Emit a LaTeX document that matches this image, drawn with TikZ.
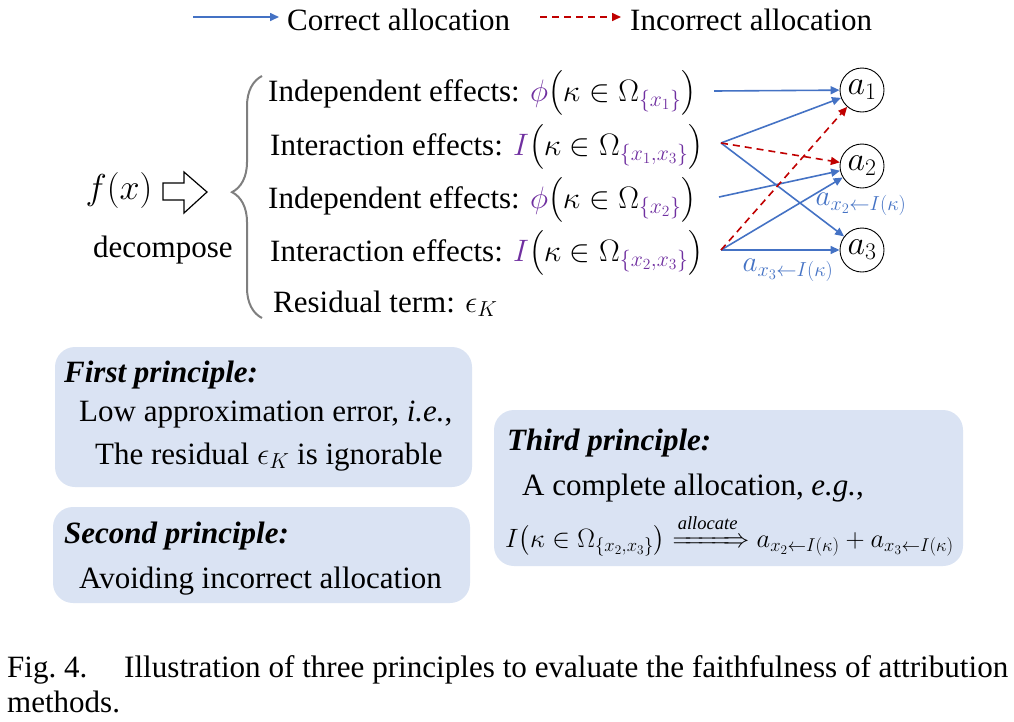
\RequirePackage{fix-cm}
\documentclass[tikz,border=0pt]{standalone}
\usepackage{fontspec}
\usepackage{mathtools}
\setmainfont{Liberation Serif}
\usetikzlibrary{arrows.meta,decorations.pathreplacing}
\definecolor{vio}{HTML}{7030A0}
\definecolor{cblue}{HTML}{4472C4}
\definecolor{cred}{HTML}{C00000}
\definecolor{boxfill}{HTML}{DAE3F3}
\definecolor{brgray}{HTML}{7F7F7F}
\newcommand{\vs}[1]{\textcolor{vio}{#1}}

\begin{document}
\begin{tikzpicture}[
  x=1pt, y=-1pt,
  txt/.style={font=\fontsize{31}{37}\selectfont, inner sep=0pt},
  eff/.style={txt, anchor=base west},
  cor/.style={draw=cblue, line width=1.6pt, -{Triangle[length=9pt,width=8pt]}},
  inc/.style={draw=cred, line width=1.6pt, dash pattern=on 7pt off 5pt, -{Triangle[length=9pt,width=8pt]}},
  anode/.style={draw, circle, line width=0.9pt, minimum size=44pt, inner sep=0pt, font=\fontsize{34}{40}\selectfont},
  lbl/.style={txt, text=cblue, font=\fontsize{29}{34}\selectfont},
  pbox/.style={fill=boxfill, rounded corners=20pt, inner sep=0pt},
  ptitle/.style={txt, anchor=base west, font=\fontsize{31}{37}\selectfont\bfseries\itshape},
]
  \useasboundingbox (0,0) rectangle (1014,721);

  % ---------------- legend
  \coordinate (lg1) at (193,17);
  \node[eff] (lgc) at (287,30) {Correct allocation};
  \draw[cor] (lg1) -- (lg1 -| 279,0);
  \coordinate (lg2) at (540,17);
  \node[eff] (lgi) at (630,30) {Incorrect allocation};
  \draw[inc] (lg2) -- (lg2 -| 621,0);

  % ---------------- decomposition
  \node[txt, font=\fontsize{36}{42}\selectfont] (fx) at (119,190) {$f(x)$};
  \draw[line width=1.2pt, line join=miter] (163,183) -- (184,183) -- (184,172) -- (207,192)
    -- (184,213) -- (184,200) -- (163,200) -- cycle;
  \node[eff] (dec) at (93,257) {decompose};
  \draw[brgray, line width=2pt, decorate, decoration={brace, amplitude=30pt, aspect=0.52}]
    (262,318) -- (262,76);

  \node[eff] (e1) at (268,101) {Independent effects: $\vs{\phi}\big(\kappa\in\Omega_{\vs{\{x_1\}}}\big)$};
  \node[eff] (e2) at (270,155) {Interaction effects: $\vs{I}\big(\kappa\in\Omega_{\vs{\{x_1,x_3\}}}\big)$};
  \node[eff] (e3) at (268,208) {Independent effects: $\vs{\phi}\big(\kappa\in\Omega_{\vs{\{x_2\}}}\big)$};
  \node[eff] (e4) at (270,261) {Interaction effects: $\vs{I}\big(\kappa\in\Omega_{\vs{\{x_2,x_3\}}}\big)$};
  \node[eff] (res) at (273,312) {Residual term: $\epsilon_K$};

  % ---------------- allocation
  \node[anode] (a1) at (862,90) {$a_1$};
  \node[anode] (a2) at (862,166) {$a_2$};
  \node[anode] (a3) at (862,250) {$a_3$};
  \coordinate (s1) at (714,91);
  \coordinate (s2) at (721,143);
  \coordinate (s3) at (719,197);
  \coordinate (s4) at (721,250);
  \draw[cor] (s1) -- (a1);
  \draw[cor] (s2) -- (a1);
  \draw[cor] (s2) -- (a3);
  \draw[cor] (s3) -- (a2);
  \draw[cor] (s4) -- (a2);
  \draw[cor] (s4) -- (a3);
  \draw[inc] (s2) -- (a2);
  \draw[inc] (s4) -- (a1);
  \node[lbl] (l2) at (861,204) {$a_{x_2\leftarrow I(\kappa)}$};
  \node[lbl] (l3) at (788,270) {$a_{x_3\leftarrow I(\kappa)}$};

  % ---------------- principles
  \node[pbox, minimum width=417pt, minimum height=140pt] (p1) at (263.5,417) {};
  \node[pbox, minimum width=417pt, minimum height=96pt] (p2) at (261.5,555) {};
  \node[pbox, minimum width=469pt, minimum height=156pt] (p3) at (728.5,488) {};
  \node[ptitle] (t1) at (64,382) {First principle:};
  \node[eff] (t1a) at (79,421) {Low approximation error, \textit{i.e.},};
  \node[eff] (t1b) at (95,464) {The residual $\epsilon_K$ is ignorable};
  \node[ptitle] (t2) at (64,543) {Second principle:};
  \node[eff] (t2a) at (79,588) {Avoiding incorrect allocation};
  \node[ptitle] (t3) at (507,450) {Third principle:};
  \node[eff] (t3a) at (522,495) {A complete allocation, \textit{e.g.},};
  \node[eff, font=\fontsize{26.5}{31}\selectfont] (t3b) at (505,547)
    {$I\big(\kappa\in\Omega_{\{x_2,x_3\}}\big)\xRightarrow{\raisebox{3pt}{$\scriptstyle\mathit{allocate}$}}a_{x_2\leftarrow I(\kappa)}+a_{x_3\leftarrow I(\kappa)}$};

  % ---------------- caption
  \node[eff] (cap0) at (7,677) {Fig.~4.};
  \node[eff, font=\fontsize{33}{38}\selectfont] (cap1) at (124,677)
    {\resizebox{884pt}{!}{Illustration of three principles to evaluate the faithfulness of attribution}};
  \node[eff] (cap2) at (7,712) {methods.};
\end{tikzpicture}
\end{document}
